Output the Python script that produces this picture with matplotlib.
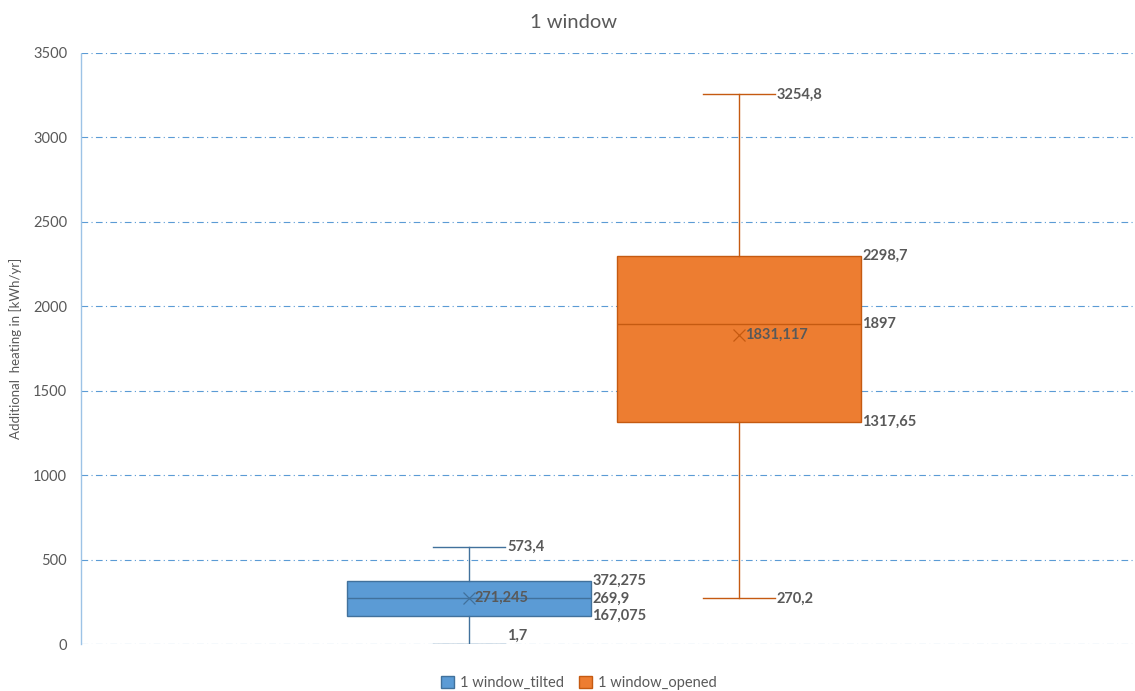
import matplotlib
matplotlib.use("Agg")
import matplotlib.pyplot as plt
from matplotlib.patches import Patch

plt.rcParams['font.family'] = ['Lato', 'DejaVu Sans']

# Box statistics per series
series_names = ["1 window_tilted", "1 window_opened"]
whisker_low = [1.7, 270.2]
quartile1 = [167.075, 1317.65]
medians = [269.9, 1897.0]
quartile3 = [372.275, 2298.7]
whisker_high = [573.4, 3254.8]
means = [271.245, 1831.117]

face_colors = ["#5B9BD5", "#ED7D31"]
edge_colors = ["#41719C", "#C55A11"]
label_color = "#595959"

def fmt(v):
    s = f"{v:.3f}".rstrip("0").rstrip(".")
    return s.replace(".", ",")

fig = plt.figure(figsize=(11.35, 6.91), dpi=100)
ax = fig.add_axes([81 / 1135, 47 / 691, (1134 - 81) / 1135, (644 - 53) / 691])

positions = [0, 1]
box_w = 0.904
cap_half = 0.133

for i, pos in enumerate(positions):
    stats = [dict(whislo=whisker_low[i], q1=quartile1[i], med=medians[i],
                  q3=quartile3[i], whishi=whisker_high[i], mean=means[i], fliers=[])]
    ax.bxp(stats, positions=[pos], widths=box_w, patch_artist=True,
           showmeans=True, showfliers=False, capwidths=[2 * cap_half],
           manage_ticks=False,
           boxprops=dict(facecolor=face_colors[i], edgecolor=edge_colors[i], linewidth=1.0),
           medianprops=dict(color=edge_colors[i], linewidth=1.0),
           whiskerprops=dict(color=edge_colors[i], linewidth=1.0),
           capprops=dict(color=edge_colors[i], linewidth=1.0),
           meanprops=dict(marker="x", markeredgecolor=edge_colors[i],
                          markersize=9, markeredgewidth=0.9),
           zorder=3)

    lbl = dict(color=label_color, fontsize=10.5, fontweight="bold", va="center", ha="left",
               zorder=5)
    # whisker end labels
    for v in (whisker_high[i], whisker_low[i]):
        dy = 6 if v < 50 else 0
        ax.annotate(fmt(v), (pos + cap_half, v), xytext=(1.5, dy),
                    textcoords="offset points", **lbl)
    # quartile / median labels at the box edge
    for v in (quartile3[i], medians[i], quartile1[i]):
        ax.annotate(fmt(v), (pos + box_w / 2, v), xytext=(1, 0),
                    textcoords="offset points", **lbl)
    # mean label
    ax.annotate(fmt(means[i]), (pos, means[i]), xytext=(4, 0),
                textcoords="offset points", **lbl)

ax.set_xlim((81 - 469) / 270, 1 + (1134 - 739) / 270)
ax.set_ylim(0, 3500)
ax.set_yticks(range(0, 3501, 500))
ax.set_xticks([])
ax.tick_params(axis="y", length=0, labelsize=10.5, labelcolor=label_color, pad=10)

ax.grid(axis="y", color="#5B9BD5", linestyle=(0, (6, 3, 1, 3)), linewidth=0.8, zorder=0)
ax.set_axisbelow(True)
for side in ("top", "right", "bottom"):
    ax.spines[side].set_visible(False)
ax.spines["left"].set_color("#9DC3E6")
ax.spines["left"].set_linestyle((0, (1, 1)))
ax.spines["left"].set_linewidth(1.0)

ax.set_ylabel("Additional  heating in [kWh/yr]", fontsize=9.5, color=label_color, labelpad=8)
fig.text(0.505, 1 - 22 / 691, "1 window", ha="center", va="center",
         fontsize=14.5, color=label_color)

handles = [Patch(facecolor=face_colors[i], edgecolor=edge_colors[i], label=series_names[i])
           for i in range(2)]
fig.legend(handles=handles, loc="center", bbox_to_anchor=(0.51, 1 - 683 / 691), ncol=2,
           frameon=False, fontsize=10.5, handlelength=0.9, handleheight=0.9,
           handletextpad=0.4, columnspacing=1.0, labelcolor=label_color)

fig.savefig("out.png", dpi=100)
